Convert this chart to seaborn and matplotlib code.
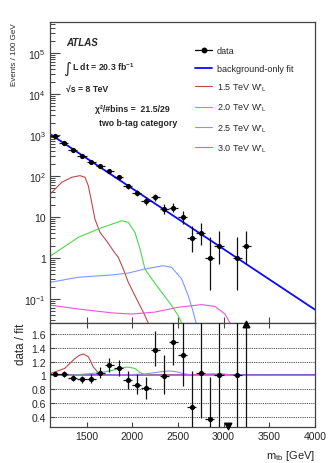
import numpy as np
import pandas as pd
import matplotlib
matplotlib.use("Agg")
import matplotlib.pyplot as plt
from matplotlib.lines import Line2D
from matplotlib.ticker import FixedLocator, FixedFormatter, LogLocator, NullFormatter
import seaborn as sns

# ---------------- data ----------------
bin_centers = [1150, 1250, 1350, 1450, 1550, 1650, 1750, 1850, 1950, 2050, 2150,
               2250, 2350, 2450, 2550, 2650, 2750, 2850, 2950, 3050, 3150, 3250]
counts = [930, 645, 440, 305, 220, 172, 135, 92, 56, 38, 25,
          30, 16, 17, 10, 3, 4, 1, 2, 0, 1, 2]
err_lo = [30.0, 25.0, 20.5, 17.0, 14.3, 12.6, 11.1, 9.1, 7.0, 6.0, 4.9,
          5.4, 3.9, 4.1, 3.1, 1.63, 1.91, 0.83, 1.29, 0.0, 0.83, 1.29]
err_hi = [31.0, 26.0, 21.5, 18.0, 15.3, 13.6, 12.1, 10.1, 8.5, 7.2, 6.1,
          6.5, 5.1, 5.2, 4.3, 2.92, 3.16, 2.30, 2.64, 1.84, 2.30, 2.64]

fit_x = [1100, 4000]
fit_y = [1058, 0.055]

sig15_x = [1100, 1228, 1337, 1428, 1483, 1519, 1556, 1592, 1647, 1720, 1793, 1847,
           1902, 1957, 2011, 2066, 2121, 2175, 2195]
sig15_y = [36, 70, 93, 102, 93, 58, 23, 8.9, 4.2, 2.6, 1.5, 1.04,
           0.54, 0.255, 0.146, 0.083, 0.048, 0.026, 0.02]
sig20_x = [1100, 1410, 1647, 1884, 1957, 2030, 2085, 2139, 2213, 2322, 2431, 2504, 2565]
sig20_y = [1.1, 3.2, 5.3, 8.1, 7.4, 4.2, 1.66, 0.54, 0.31, 0.146, 0.069, 0.039, 0.02]
sig25_x = [1100, 1410, 1775, 1957, 2139, 2340, 2431, 2540, 2613, 2668, 2712]
sig25_y = [0.255, 0.34, 0.385, 0.43, 0.54, 0.65, 0.59, 0.31, 0.12, 0.048, 0.02]
sig30_x = [1100, 1410, 1775, 1994, 2249, 2504, 2760, 2905, 3015, 3070, 3082]
sig30_y = [0.071, 0.057, 0.046, 0.043, 0.048, 0.063, 0.073, 0.066, 0.043, 0.026, 0.02]

ratio = [1.02, 1.02, 0.96, 0.94, 0.95, 1.04, 1.145, 1.10, 0.93, 0.865, 0.81,
         1.37, 0.99, 1.49, 1.30, 0.54, 1.03, 0.36, 1.01, 0.0, 1.0, 2.5]
ratio_lo = [0.033, 0.04, 0.047, 0.054, 0.064, 0.08, 0.10, 0.115, 0.125, 0.14, 0.16,
            0.24, 0.26, 0.34, 0.45, 0.30, 0.65, 0.36, 0.80, 0.0, 0.83, 2.4]
ratio_hi = [0.034, 0.04, 0.048, 0.056, 0.066, 0.085, 0.11, 0.12, 0.13, 0.15, 0.17,
            0.28, 0.31, 0.45, 0.55, 0.52, 0.75, 0.62, 1.30, 0.0, 2.3, 3.7]

rsig15_x = [1100, 1260, 1370, 1420, 1465, 1520, 1575, 1630, 1690, 4000]
rsig15_y = [1.025, 1.10, 1.24, 1.29, 1.31, 1.27, 1.12, 1.035, 1.005, 1.0]
rsig20_x = [1100, 1400, 1630, 1775, 1885, 1955, 2030, 2085, 2140, 2250, 4000]
rsig20_y = [1.001, 1.01, 1.035, 1.07, 1.11, 1.12, 1.10, 1.04, 1.01, 1.003, 1.0]
rsig25_x = [1100, 1700, 1950, 2140, 2250, 2330, 2410, 2490, 2560, 2630, 2700, 4000]
rsig25_y = [1.0, 1.005, 1.01, 1.02, 1.04, 1.055, 1.064, 1.05, 1.025, 1.01, 1.0, 1.0]
rsig30_x = [1100, 2500, 2700, 2850, 3000, 3100, 4000]
rsig30_y = [1.0, 1.003, 1.01, 1.02, 1.02, 1.0, 1.0]

legend_labels = ["data", "background-only fit",
                 "1.5 TeV W$'_{\\mathrm{L}}$", "2.0 TeV W$'_{\\mathrm{L}}$",
                 "2.5 TeV W$'_{\\mathrm{L}}$", "3.0 TeV W$'_{\\mathrm{L}}$"]
xticks_ratio = [1500, 2000, 2500, 3000, 3500, 4000]
yticks_ratio = [0.4, 0.6, 0.8, 1.0, 1.2, 1.4, 1.6]
yticklabels_ratio = ["0.4", "0.6", "0.8", "1", "1.2", "1.4", "1.6"]
yticks_main = [0.1, 1, 10, 100, 1e3, 1e4, 1e5]
yticklabels_main = ["$10^{-1}$", "1", "10", "$10^{2}$", "$10^{3}$", "$10^{4}$", "$10^{5}$"]

# ---------------- style ----------------
sns.set_theme(style="ticks")
plt.rcParams["font.family"] = ["Liberation Sans", "DejaVu Sans"]
plt.rcParams["mathtext.fontset"] = "custom"
plt.rcParams["mathtext.rm"] = "Liberation Sans"
plt.rcParams["mathtext.it"] = "Liberation Sans:italic"
plt.rcParams["mathtext.bf"] = "Liberation Sans:bold"

c_fit = "#0a0aff"
c15 = "#c04848"
c20 = "#4cd84c"
c25 = "#7b9bff"
c30 = "#e856dc"
spine_c = "#444444"

W, H = 332, 464
def fx(x):
    return x / W
def fy(y):
    return 1 - y / H

fig = plt.figure(figsize=(W / 100, H / 100), dpi=100)
ax = fig.add_axes([fx(50), fy(324), 265 / W, 301 / H])
axr = fig.add_axes([fx(50), fy(428), 265 / W, 104 / H], sharex=ax)

df = pd.DataFrame({"m": bin_centers, "n": counts, "lo": err_lo, "hi": err_hi,
                   "r": ratio, "rlo": ratio_lo, "rhi": ratio_hi})
dmain = df[df["n"] > 0]

# ---------------- main panel ----------------
ax.set_yscale("log")
sns.lineplot(x=sig15_x, y=sig15_y, ax=ax, color=c15, lw=0.8, sort=False)
sns.lineplot(x=sig20_x, y=sig20_y, ax=ax, color=c20, lw=0.8, sort=False)
sns.lineplot(x=sig25_x, y=sig25_y, ax=ax, color=c25, lw=0.8, sort=False)
sns.lineplot(x=sig30_x, y=sig30_y, ax=ax, color=c30, lw=0.8, sort=False)
sns.lineplot(x=fit_x, y=fit_y, ax=ax, color=c_fit, lw=1.3)
ax.errorbar(dmain["m"], dmain["n"], yerr=[dmain["lo"], dmain["hi"]], xerr=50,
            fmt="none", ecolor="#111111", elinewidth=0.9, capsize=0, zorder=4)
sns.scatterplot(x=dmain["m"], y=dmain["n"], ax=ax, color="black", s=14,
                edgecolor="black", linewidth=0, zorder=5)

ax.set_xlim(1100, 4000)
ax.set_ylim(0.026, 5.7e5)
ax.yaxis.set_major_locator(FixedLocator(yticks_main))
ax.yaxis.set_major_formatter(FixedFormatter(yticklabels_main))
ax.yaxis.set_minor_locator(LogLocator(base=10, subs=np.arange(2, 10), numticks=100))
ax.yaxis.set_minor_formatter(NullFormatter())
ax.set_xticks([1500, 2000, 2500, 3000, 3500])
ax.tick_params(axis="x", which="both", direction="in", length=4, width=0.8,
               color=spine_c, labelbottom=False, top=False, bottom=True)
ax.tick_params(axis="y", which="major", direction="in", length=7, width=0.8,
               color=spine_c, labelsize=7.5, pad=3, left=True, right=False)
ax.tick_params(axis="y", which="minor", direction="in", length=3.5, width=0.7,
               color=spine_c, left=True, right=False)
ax.set_xlabel("")
ax.set_ylabel("Events / 100 GeV", fontsize=5.8, loc="top")
ax.yaxis.set_label_coords(-0.122, 1.0)
for s in ax.spines.values():
    s.set_color(spine_c)
    s.set_linewidth(0.9)

# ---------------- ratio panel ----------------
rin = df[(df["r"] > 0.25) & (df["r"] < 1.76)]
sns.lineplot(x=[1100, 4000], y=[1.0, 1.0], ax=axr, color=c_fit, lw=1.3)
sns.lineplot(x=rsig15_x, y=rsig15_y, ax=axr, color=c15, lw=0.8)
sns.lineplot(x=rsig20_x, y=rsig20_y, ax=axr, color=c20, lw=0.8)
sns.lineplot(x=rsig25_x, y=rsig25_y, ax=axr, color=c25, lw=0.8)
sns.lineplot(x=rsig30_x, y=rsig30_y, ax=axr, color=c30, lw=0.9)
axr.errorbar(rin["m"], rin["r"], yerr=[rin["rlo"], rin["rhi"]], xerr=50,
             fmt="none", ecolor="#111111", elinewidth=0.9, capsize=0, zorder=4)
sns.scatterplot(x=rin["m"], y=rin["r"], ax=axr, color="black", s=14,
                edgecolor="black", linewidth=0, zorder=5)
# out-of-range points
hi_pts = df[df["r"] >= 1.76]
lo_pts = df[(df["r"] <= 0.25) & (df["n"] == 0)]
axr.errorbar(hi_pts["m"], hi_pts["r"], yerr=[hi_pts["rlo"], hi_pts["rhi"]],
             fmt="none", ecolor="#111111", elinewidth=0.9, capsize=0, zorder=4)
axr.scatter(hi_pts["m"], [1.745] * len(hi_pts), marker="^", s=22, color="black",
            clip_on=False, zorder=6)
axr.scatter(lo_pts["m"], [0.265] * len(lo_pts), marker="v", s=22, color="black",
            clip_on=False, zorder=6)

axr.set_xlim(1100, 4000)
axr.set_ylim(0.25, 1.76)
axr.set_yticks(yticks_ratio)
axr.set_yticklabels(yticklabels_ratio)
axr.set_xticks(xticks_ratio)
axr.set_xticklabels([str(v) for v in xticks_ratio])
axr.grid(axis="y", linestyle=(0, (1, 1.2)), color="#111111", lw=0.6)
axr.grid(axis="x", visible=False)
axr.tick_params(axis="x", direction="in", length=3.5, width=0.8, color=spine_c,
                labelsize=7.5, top=True, bottom=True, pad=3)
axr.tick_params(axis="y", direction="in", length=3.5, width=0.8, color=spine_c,
                labelsize=7.5, left=True, right=False, pad=3)
axr.set_ylabel("data / fit", fontsize=8.3, loc="top")
axr.yaxis.set_label_coords(-0.088, 1.0)
axr.set_xlabel("m$_{\\mathrm{tb}}$ [GeV]", fontsize=8, loc="right")
axr.xaxis.set_label_coords(1.0, -0.2)
for s in axr.spines.values():
    s.set_color(spine_c)
    s.set_linewidth(0.9)

# ---------------- legend ----------------
handles = [Line2D([], [], color="black", marker="o", ms=3.2, lw=0.9),
           Line2D([], [], color=c_fit, lw=1.3),
           Line2D([], [], color=c15, lw=0.8),
           Line2D([], [], color=c20, lw=0.8),
           Line2D([], [], color=c25, lw=0.8),
           Line2D([], [], color=c30, lw=0.8)]
fig.legend(handles, legend_labels, loc="upper left",
           bbox_to_anchor=(fx(195), fy(47)), frameon=False, fontsize=6.5,
           handlelength=1.9, handletextpad=0.5, labelspacing=0.97,
           borderpad=0, borderaxespad=0)

# ---------------- annotations ----------------
fig.text(fx(66.5), fy(42.5), "ATLAS", fontsize=7, weight="bold", style="italic", va="center")
fig.text(fx(63.5), fy(68), "\u222b", fontsize=11, va="center", family=["DejaVu Sans"])
fig.text(fx(72.5), fy(67.5), "L dt = 20.3 fb$^{\\mathbf{-1}}$", fontsize=6.3,
         weight="bold", va="center")
fig.text(fx(66.5), fy(89.5), "\u221as = 8 TeV", fontsize=6.3, weight="bold", va="center")
fig.text(fx(95), fy(109.5), "\u03c7\u00b2/#bins =  21.5/29", fontsize=6.3,
         weight="bold", va="center")
fig.text(fx(99), fy(123), "two b-tag category", fontsize=6.3, weight="bold", va="center")

fig.savefig("out.png", dpi=100)
